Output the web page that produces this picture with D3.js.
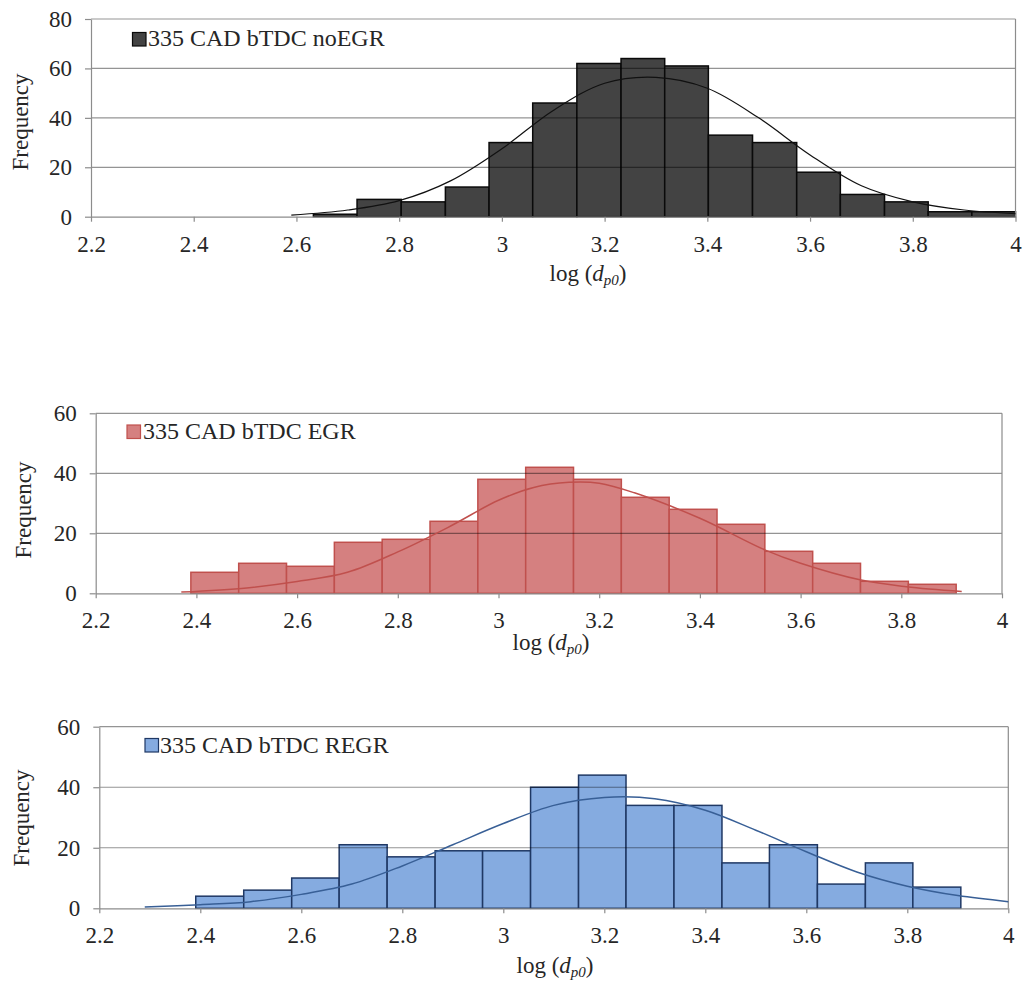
<!DOCTYPE html>
<html>
<head>
<meta charset="utf-8">
<script src="https://cdn.jsdelivr.net/npm/d3@7"></script>
<style>
    body { margin: 0; background: #fff; }
    svg { display: block; font-family: "Liberation Serif", "Times New Roman", serif; }
</style>
</head>
<body>
<div id="chart"></div>
<script>
'use strict';

// Shared x ticks (log of particle diameter)
const xTicks = [2.2, 2.4, 2.6, 2.8, 3, 3.2, 3.4, 3.6, 3.8, 4];

// 335 CAD bTDC noEGR
const noEgrEdges  = [2.633, 2.718, 2.804, 2.890, 2.975, 3.060, 3.146, 3.232, 3.317,
                     3.402, 3.488, 3.574, 3.659, 3.745, 3.830, 3.915, 4.000];
const noEgrCounts = [1, 7, 6, 12, 30, 46, 62, 64, 61, 33, 30, 18, 9, 6, 2, 2];
const noEgrFitX   = [2.59, 2.7, 2.8, 2.9, 3.0, 3.1, 3.2, 3.3, 3.4, 3.5, 3.6, 3.7, 3.8, 3.9, 4.0];
const noEgrFitY   = [0.6, 2.7, 6.5, 14.5, 27.5, 43, 54, 56.4, 52, 40, 25, 12.5, 6, 2.7, 1.2];
const noEgrYTicks = [0, 20, 40, 60, 80];

// 335 CAD bTDC EGR
const egrEdges  = [2.389, 2.484, 2.579, 2.674, 2.769, 2.864, 2.959, 3.054, 3.149,
                   3.244, 3.339, 3.434, 3.529, 3.624, 3.719, 3.814, 3.909];
const egrCounts = [7, 10, 9, 17, 18, 24, 38, 42, 38, 32, 28, 23, 14, 10, 4, 3];
const egrFitX   = [2.37, 2.5, 2.6, 2.7, 2.8, 2.9, 3.0, 3.07, 3.14, 3.2, 3.27, 3.4, 3.53, 3.6, 3.72, 3.81, 3.92];
const egrFitY   = [0.4, 1.8, 3.9, 7, 13.8, 22, 31, 35.3, 37, 36.7, 33.5, 25, 14.4, 10, 4.4, 2.2, 0.6];
const egrYTicks = [0, 20, 40, 60];

// 335 CAD bTDC REGR
const regrEdges  = [2.391, 2.486, 2.581, 2.675, 2.770, 2.865, 2.959, 3.054, 3.149,
                    3.243, 3.338, 3.433, 3.527, 3.622, 3.717, 3.811, 3.906];
const regrCounts = [4, 6, 10, 21, 17, 19, 19, 40, 44, 34, 34, 15, 21, 8, 15, 7];
const regrFitX   = [2.29, 2.4, 2.5, 2.6, 2.7, 2.8, 2.9, 3.0, 3.1, 3.2, 3.3, 3.4, 3.5, 3.6, 3.7, 3.8, 3.9, 4.0];
const regrFitY   = [0.4, 1.2, 2.2, 4.6, 8, 14, 21, 28, 34, 36.6, 36.2, 32.4, 25.8, 18.7, 12, 7.3, 4.2, 2.2];
const regrYTicks = [0, 20, 40, 60];

const W = 1027, H = 983;
const axisGrey = '#8c8c8c';
const textCol = '#262626';

const svg = d3.select('#chart').append('svg')
    .attr('width', W)
    .attr('height', H);

// Layout of each panel (pixel frame + styles)
const panels = [
    {
        name: '335 CAD bTDC noEGR', edges: noEgrEdges, counts: noEgrCounts,
        fitX: noEgrFitX, fitY: noEgrFitY, yTicks: noEgrYTicks,
        left: 91, right: 1015.5, top: 19, bottom: 216.7,
        fill: '#434343', stroke: '#0a0a0a', curve: '#111', curveW: 1.2,
        legend: { x: 132.5, y: 32.5, size: 13.5, tx: 148, ty: 46 },
        yTitle: { x: 28, y: 122 }, xTitle: { x: 588, y: 281 }
    },
    {
        name: '335 CAD bTDC EGR', edges: egrEdges, counts: egrCounts,
        fitX: egrFitX, fitY: egrFitY, yTicks: egrYTicks,
        left: 95.7, right: 1002, top: 413.3, bottom: 593.3,
        fill: '#d58080', stroke: '#c0504d', curve: '#c0504d', curveW: 1.5,
        legend: { x: 127, y: 425, size: 13.5, tx: 143, ty: 438.5 },
        yTitle: { x: 31, y: 510 }, xTitle: { x: 551, y: 650 }
    },
    {
        name: '335 CAD bTDC REGR', edges: regrEdges, counts: regrCounts,
        fitX: regrFitX, fitY: regrFitY, yTicks: regrYTicks,
        left: 99.3, right: 1008.3, top: 726.7, bottom: 908.3,
        fill: '#85abe0', stroke: '#1f3864', curve: '#385f96', curveW: 1.5,
        legend: { x: 145, y: 738.5, size: 13.5, tx: 160, ty: 752.5 },
        yTitle: { x: 29, y: 818 }, xTitle: { x: 555, y: 973 }
    }
];

function drawPanel(p){
    const g = svg.append('g');

    const x = d3.scaleLinear().domain([2.2, 4]).range([p.left, p.right]);
    const y = d3.scaleLinear().domain([0, d3.max(p.yTicks)]).range([p.bottom, p.top]);

    // histogram bars
    g.selectAll('rect.bar')
        .data(p.counts)
        .join('rect')
        .classed('bar', true)
        .attr('x', (d, i) => x(p.edges[i]))
        .attr('width', (d, i) => x(p.edges[i + 1]) - x(p.edges[i]))
        .attr('y', d => y(d))
        .attr('height', d => y(0) - y(d))
        .attr('fill', p.fill)
        .attr('stroke', p.stroke)
        .attr('stroke-width', 1.5);

    // gridlines, drawn see-through over the bars like the original
    g.selectAll('line.grid')
        .data(p.yTicks.filter(t => t > 0))
        .join('line')
        .classed('grid', true)
        .attr('x1', p.left).attr('x2', p.right)
        .attr('y1', d => y(d)).attr('y2', d => y(d))
        .attr('stroke', '#000')
        .attr('stroke-opacity', 0.42)
        .attr('stroke-width', 1.2);

    // right border of plot area
    g.append('line')
        .attr('x1', p.right).attr('x2', p.right)
        .attr('y1', p.top).attr('y2', p.bottom)
        .attr('stroke', axisGrey).attr('stroke-width', 1.2);

    // fitted normal curve
    const pts = p.fitX.map((v, i) => [v, p.fitY[i]]);
    g.append('path')
        .datum(pts)
        .attr('fill', 'none')
        .attr('stroke', p.curve)
        .attr('stroke-width', p.curveW)
        .attr('d', d3.line()
            .x(d => x(d[0]))
            .y(d => y(d[1]))
            .curve(d3.curveCatmullRom.alpha(0.5)));

    // axes
    const yAxis = g.append('g')
        .attr('transform', `translate(${p.left},0)`)
        .call(d3.axisLeft(y).tickValues(p.yTicks).tickSize(6).tickSizeOuter(0).tickPadding(13));

    const xAxis = g.append('g')
        .attr('transform', `translate(0,${p.bottom})`)
        .call(d3.axisBottom(x).tickValues(xTicks).tickSize(5).tickSizeOuter(0)
            .tickFormat(d3.format('')));

    [yAxis, xAxis].forEach(a => {
        a.select('.domain').attr('stroke', axisGrey).attr('stroke-width', 1.2);
        a.selectAll('.tick line').attr('stroke', axisGrey).attr('stroke-width', 1.2);
        a.selectAll('.tick text')
            .attr('fill', textCol)
            .style('font-size', '23px')
            .style('font-family', '"Liberation Serif", "Times New Roman", serif');
    });
    xAxis.selectAll('.tick text').attr('dy', null).attr('y', 35);

    // legend
    g.append('rect')
        .attr('x', p.legend.x).attr('y', p.legend.y)
        .attr('width', p.legend.size).attr('height', p.legend.size)
        .attr('fill', p.fill).attr('stroke', p.stroke).attr('stroke-width', 1.2);
    g.append('text')
        .attr('x', p.legend.tx).attr('y', p.legend.ty)
        .attr('fill', textCol)
        .style('font-size', '24px')
        .text(p.name);

    // y title
    g.append('text')
        .attr('transform', `translate(${p.yTitle.x},${p.yTitle.y}) rotate(-90)`)
        .attr('text-anchor', 'middle')
        .attr('fill', textCol)
        .style('font-size', '23px')
        .text('Frequency');

    // x title: log (d_p0)
    const xt = g.append('text')
        .attr('x', p.xTitle.x).attr('y', p.xTitle.y)
        .attr('text-anchor', 'middle')
        .attr('fill', textCol)
        .style('font-size', '23px');
    xt.append('tspan').text('log (');
    xt.append('tspan').style('font-style', 'italic').text('d');
    xt.append('tspan').style('font-style', 'italic').style('font-size', '15px')
        .attr('dy', 4).text('p0');
    xt.append('tspan').attr('dy', -4).text(')');
}

panels.forEach(drawPanel);
</script>
</body>
</html>
